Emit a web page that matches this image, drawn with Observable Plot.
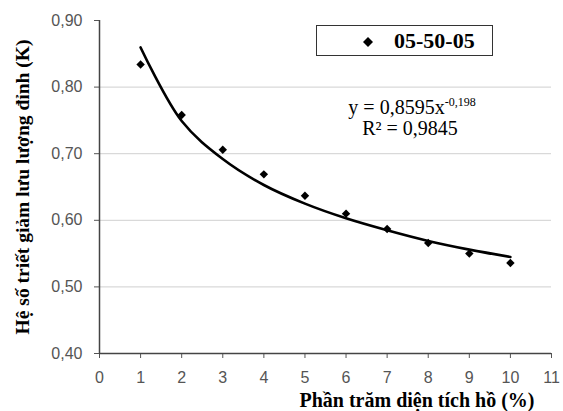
<!DOCTYPE html>
<html>
<head>
<meta charset="utf-8">
<script src="https://cdn.jsdelivr.net/npm/d3@7"></script>
<script src="https://cdn.jsdelivr.net/npm/@observablehq/plot@0.6"></script>
<style>
  html, body { margin: 0; padding: 0; background: #fff; }
  #wrap { position: relative; width: 563px; height: 411px; overflow: hidden; }
  .ov { position: absolute; white-space: nowrap; color: #000; line-height: 1; font-family: "Liberation Serif", "Times New Roman", serif; }
</style>
</head>
<body>
<div id="wrap"></div>
<script>
// Data
const xValues = [1, 2, 3, 4, 5, 6, 7, 8, 9, 10];
const kValues = [0.834, 0.758, 0.706, 0.669, 0.637, 0.610, 0.587, 0.566, 0.550, 0.536];
// Power trend line (y = 0,8595x^-0,198) read at each x
const trendValues = [0.8595, 0.749, 0.692, 0.653, 0.625, 0.603, 0.585, 0.569, 0.556, 0.545];
const xTicks = [0, 1, 2, 3, 4, 5, 6, 7, 8, 9, 10, 11];
const yTicks = [0.40, 0.50, 0.60, 0.70, 0.80, 0.90];
const gridTicks = [0.50, 0.60, 0.70, 0.80];
const seriesName = "05-50-05";
const xTitle = "Phần trăm diện tích hồ (%)";
const yTitle = "Hệ số triết giảm lưu lượng đỉnh (K)";
const equationText = "y = 0,8595x";
const exponentText = "-0,198";
const r2Text = "R² = 0,9845";

const points = xValues.map((x, i) => ({x, y: kValues[i]}));
const trend = xValues.map((x, i) => ({x, y: trendValues[i]}));
const fmtY = d => d.toFixed(2).replace(".", ",");

const chart = Plot.plot({
  width: 563,
  height: 411,
  marginLeft: 99,
  marginRight: 12,
  marginTop: 20,
  marginBottom: 58,
  style: {fontFamily: "'Liberation Sans', Arial, sans-serif", background: "#fff"},
  x: {domain: [0, 11]},
  y: {domain: [0.40, 0.90]},
  marks: [
    Plot.gridY(gridTicks, {stroke: "#d9d9d9", strokeOpacity: 1, strokeWidth: 1.2}),
    Plot.axisX({ticks: xTicks, tickSize: 5, tickPadding: 13, tickFormat: d => String(d), stroke: "#555", fill: "#555", fontSize: 16, label: null}),
    Plot.axisY({ticks: yTicks, tickSize: 5, tickPadding: 12, tickFormat: fmtY, stroke: "#555", fill: "#555", fontSize: 16, label: null}),
    Plot.ruleX([0], {stroke: "#444", strokeWidth: 1.5}),
    Plot.ruleY([0.40], {stroke: "#444", strokeWidth: 1.5}),
    Plot.line(trend, {x: "x", y: "y", curve: "catmull-rom", stroke: "#000", strokeWidth: 2.6}),
    Plot.dot(points, {x: "x", y: "y", symbol: "diamond2", fill: "#000", stroke: "none", r: 3.8})
  ]
});

const wrap = document.getElementById("wrap");
wrap.appendChild(chart);

function add(html, css) {
  const d = document.createElement("div");
  d.className = "ov";
  d.innerHTML = html;
  Object.assign(d.style, css);
  wrap.appendChild(d);
  return d;
}

// Legend box
add(`<svg width="10" height="10" style="position:absolute;left:46px;top:11px"><path d="M5,0L10,5L5,10L0,5Z" fill="#000"/></svg><span style="position:absolute;left:77px;top:4px;font-weight:bold;font-size:22px;">${seriesName}</span>`,
  {left: "316px", top: "25px", width: "175px", height: "29px", border: "1.2px solid #333", background: "#fff"});

// Equation
add(`${equationText}<sup style="font-size:12px;vertical-align:0;position:relative;top:-8px;">${exponentText}</sup>`,
  {left: "412px", top: "97px", fontSize: "20px", transform: "translateX(-50%)"});
add(r2Text, {left: "410px", top: "118px", fontSize: "20px", transform: "translateX(-50%)"});

// Axis titles
add(xTitle, {left: "417px", top: "390px", fontSize: "20px", fontWeight: "bold", transform: "translateX(-50%)"});
add(yTitle, {left: "23px", top: "187px", fontSize: "19.5px", fontWeight: "bold", transform: "translate(-50%, -50%) rotate(-90deg)"});
</script>
</body>
</html>
